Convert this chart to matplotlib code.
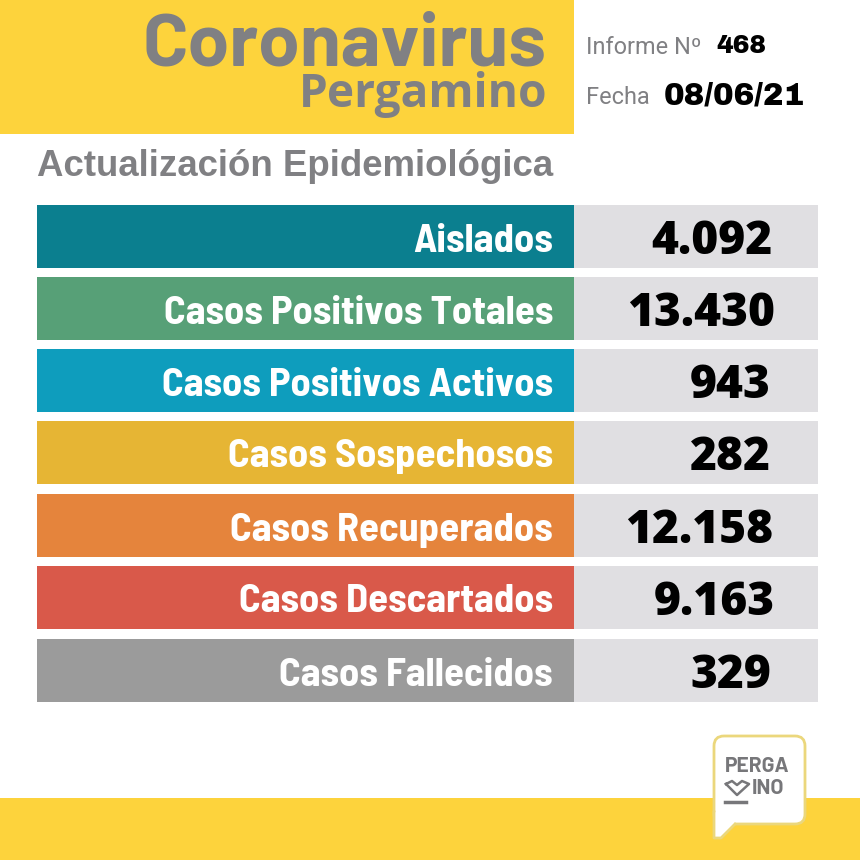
import matplotlib
matplotlib.use("Agg")
import matplotlib.pyplot as plt
from matplotlib.patches import Rectangle, FancyBboxPatch, Polygon

categories = ["Aislados", "Casos Positivos Totales", "Casos Positivos Activos",
              "Casos Sospechosos", "Casos Recuperados", "Casos Descartados", "Casos Fallecidos"]
values = ["4.092", "13.430", "943", "282", "12.158", "9.163", "329"]
title = "Coronavirus"
subtitle = "Pergamino"
heading = "Actualización Epidemiológica"
report_label = "Informe Nº"
report_number = "468"
date_label = "Fecha"
date_value = "08/06/21"
logo_top = "PERGA"
logo_bottom = "INO"

row_colors = ["#0B7F8F", "#57A077", "#0E9DBD", "#E6B534", "#E5843C", "#D9594A", "#9B9B9B"]
value_right = [772, 775, 771, 771, 773, 775, 771]
row_tops = [205, 277, 349, 421, 494, 566, 639]
YEL = "#FDD33C"
GREY = "#808083"
COND = ["Barlow Semi Condensed", "Roboto Condensed", "Roboto"]
DIN = ["Barlow", "Roboto"]
HEAVY = ["Archivo Black", "Open Sans"]

fig = plt.figure(figsize=(8.6, 8.6), dpi=100, facecolor="white")
ax = fig.add_axes([0, 0, 1, 1])
ax.set_xlim(0, 860)
ax.set_ylim(860, 0)
ax.axis("off")

ax.add_patch(Rectangle((0, 0), 574, 134, fc=YEL, ec="none"))
ax.add_patch(Rectangle((0, 798), 860, 62, fc=YEL, ec="none"))

def txt(x, y, s, px, color, ha="right", family=COND, weight="bold", **kw):
    return ax.text(x, y, s, fontsize=px * 0.72, color=color, ha=ha, va="center",
                   family=family, fontweight=weight, **kw)

txt(547, 46, title, 75, GREY, family=DIN)
txt(547, 94, subtitle, 46, GREY, family="Open Sans")
txt(37, 166, heading, 36.6, GREY, ha="left", family="Liberation Sans")
txt(586, 47, report_label, 23.5, GREY, ha="left", family="Roboto", weight="normal")
txt(716, 46, report_number, 25, "black", ha="left", family=HEAVY, weight="normal")
txt(586, 97, date_label, 23.5, GREY, ha="left", family="Roboto", weight="normal")
txt(664, 96, date_value, 31, "black", ha="left", family=HEAVY, weight="normal")

for top, label, val, color, vr in zip(row_tops, categories, values, row_colors, value_right):
    ax.barh(top + 31.5, 537, left=37, height=63, color=color, linewidth=0)
    ax.barh(top + 31.5, 244, left=574, height=63, color="#E0DFE2", linewidth=0)
    txt(553, top + 36, label, 40.5, "white", weight="bold")
    txt(vr, top + 37, val, 46, "black", family="Open Sans", weight="extra bold")

# Logo speech bubble
ax.add_patch(FancyBboxPatch((714, 736), 91, 88, boxstyle="round,pad=0,rounding_size=10",
                            fc="white", ec="#EBD77C", lw=2, zorder=3))
ax.add_patch(Polygon([(715, 812), (715, 838), (722, 838), (736, 823)], closed=True,
                     fc="white", ec="none", zorder=4))
ax.plot([714, 714, 721, 735], [812, 838, 838, 824], color="#EBD77C", lw=2, zorder=5)
txt(725, 766, logo_top, 21, "#77777A", ha="left", family=DIN, zorder=6)
txt(752, 788, logo_bottom, 21, "#77777A", ha="left", family=DIN, zorder=6)
ax.plot([726, 732, 737, 742, 749, 737, 726], [784, 781, 785, 781, 784, 795, 784],
        color="#77777A", lw=1.8, zorder=6)
ax.plot([725, 746], [802, 802], color="#77777A", lw=2.5, zorder=6)

fig.savefig("out.png", dpi=100)
